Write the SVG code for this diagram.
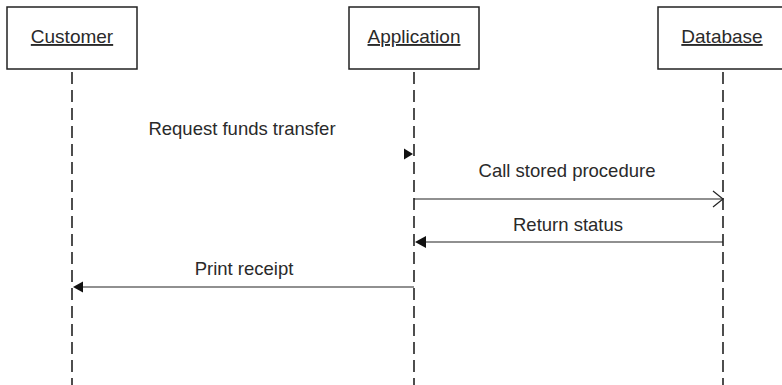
<svg xmlns="http://www.w3.org/2000/svg" width="782" height="385" viewBox="0 0 782 385">
<style>
.box{fill:#fff;stroke:#222;stroke-width:1.5}
.lbl{font-family:"Liberation Sans",Arial,sans-serif;font-size:19px;fill:#2a2a2a;text-anchor:middle;text-decoration:underline}
.msg{font-family:"Liberation Sans",Arial,sans-serif;font-size:18.5px;fill:#2a2a2a;text-anchor:middle}
.life{stroke:#222;stroke-width:1.6;stroke-dasharray:12 6;fill:none}
.arr{stroke:#222;stroke-width:1.2;fill:none}
.head{fill:#111;stroke:none}
</style>
<rect width="782" height="385" fill="#fff"/>
<g id="customer">
<rect class="box" x="7" y="7" width="130" height="62"/>
<text class="lbl" x="72" y="43">Customer</text>
<line class="life" x1="72" y1="72" x2="72" y2="385"/>
</g>
<g id="application">
<rect class="box" x="349" y="7" width="130" height="62"/>
<text class="lbl" x="414" y="43">Application</text>
<line class="life" x1="414" y1="72" x2="414" y2="385"/>
</g>
<g id="database">
<rect class="box" x="658" y="7" width="130" height="62"/>
<text class="lbl" x="722" y="43">Database</text>
<line class="life" x1="723" y1="72" x2="723" y2="385"/>
</g>
<g id="connectors">
<g id="m1">
<text class="msg" x="242" y="135">Request funds transfer</text>
<polygon class="head" points="404,148.5 413,154 404,159.5"/>
</g>
<g id="m2">
<text class="msg" x="567" y="177">Call stored procedure</text>
<line class="arr" x1="414" y1="199" x2="723" y2="199"/>
<polyline class="arr" points="713,191 723,199 713,207"/>
</g>
<g id="m3">
<text class="msg" x="568" y="231">Return status</text>
<line class="arr" x1="424" y1="242" x2="723" y2="242"/>
<polygon class="head" points="415,242 426,236 426,248"/>
</g>
<g id="m4">
<text class="msg" x="244" y="275">Print receipt</text>
<line class="arr" x1="80" y1="287" x2="414" y2="287"/>
<polygon class="head" points="73,287 83,281.5 83,292.5"/>
</g>
</g>
</svg>
